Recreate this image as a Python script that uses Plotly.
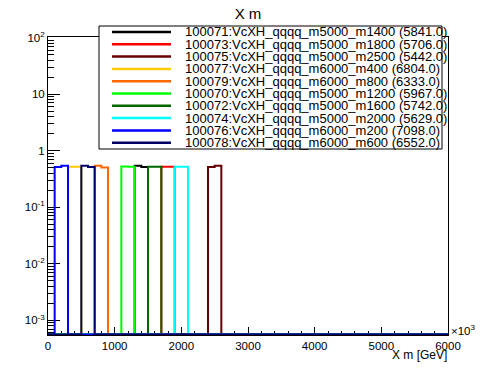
import plotly.graph_objects as go

# ---------------- data ----------------
bin_width = 100
x_min, x_max = 0, 6000
sample_labels = [
    "100071:VcXH_qqqq_m5000_m1400 (5841.0)",
    "100073:VcXH_qqqq_m5000_m1800 (5706.0)",
    "100075:VcXH_qqqq_m5000_m2500 (5442.0)",
    "100077:VcXH_qqqq_m6000_m400 (6804.0)",
    "100079:VcXH_qqqq_m6000_m800 (6333.0)",
    "100070:VcXH_qqqq_m5000_m1200 (5967.0)",
    "100072:VcXH_qqqq_m5000_m1600 (5742.0)",
    "100074:VcXH_qqqq_m5000_m2000 (5629.0)",
    "100076:VcXH_qqqq_m6000_m200 (7098.0)",
    "100078:VcXH_qqqq_m6000_m600 (6552.0)",
]
sample_colors = ["#000000", "#ff0000", "#660000", "#ffcc00", "#ff6600",
                 "#00ff00", "#006600", "#00ffff", "#0000ff", "#000066"]
bin_low = [1300, 1700, 2400, 300, 700, 1100, 1500, 1900, 100, 500]
content_first = [0.54, 0.52, 0.515, 0.52, 0.54, 0.525, 0.52, 0.52, 0.515, 0.54]
content_second = [0.515, 0.52, 0.54, 0.52, 0.505, 0.52, 0.52, 0.52, 0.54, 0.515]

x_tick_vals = [0, 1000, 2000, 3000, 4000, 5000, 6000]
x_tick_text = ["0", "1000", "2000", "3000", "4000", "5000", "6000"]
y_tick_vals = [1e-3, 1e-2, 1e-1, 1, 10, 100]
y_tick_text = ["10<sup>-3</sup>", "10<sup>-2</sup>", "10<sup>-1</sup>", "1", "10", "10<sup>2</sup>"]
y_log_range = [-3.26, 2.01]

# ---------------- layout geometry (pixels) ----------------
OFF = 8                      # default page body margin
W, H = 490, 366
plot_w, plot_h = 400, 298
L, T = 48 - OFF, 37 - OFF
R = W - L - plot_w
B = H - T - plot_h
FONT = "Liberation Sans, Arial, sans-serif"


def px_x(p):
    return (p - OFF - L) / plot_w


def px_y(p):
    return (H - B - (p - OFF)) / plot_h


nbins = (x_max - x_min) // bin_width
edges = [x_min + i * bin_width for i in range(nbins + 1)]
floor = 10 ** (y_log_range[0] + 0.01)

fig = go.Figure()
for lab, col, lo, c1, c2 in zip(sample_labels, sample_colors, bin_low,
                                content_first, content_second):
    contents = [0.0] * nbins
    i0 = (lo - x_min) // bin_width
    contents[i0] = c1
    contents[i0 + 1] = c2
    yv = [c if c > 0 else floor for c in contents]
    yv.append(yv[-1])
    fig.add_trace(go.Scatter(x=edges, y=yv, mode="lines", line_shape="hv",
                             line=dict(color=col, width=2), name=lab,
                             showlegend=False, hoverinfo="skip"))

# ---------------- manual ROOT-style legend ----------------
shapes = [dict(type="rect", xref="paper", yref="paper",
               x0=px_x(99), x1=px_x(442), y0=px_y(149), y1=px_y(26),
               line=dict(color="black", width=1), fillcolor="white", layer="above")]
annotations = []
row0, row_step = 32.0, 12.3
for i, (lab, col) in enumerate(zip(sample_labels, sample_colors)):
    yy = row0 + i * row_step
    shapes.append(dict(type="line", xref="paper", yref="paper",
                       x0=px_x(112), x1=px_x(171), y0=px_y(yy), y1=px_y(yy),
                       line=dict(color=col, width=2.5), layer="above"))
    annotations.append(dict(text=lab, xref="paper", yref="paper",
                            x=px_x(184), y=px_y(yy), xanchor="left", yanchor="middle",
                            borderpad=0,
                            showarrow=False, font=dict(size=13, color="black", family=FONT)))

annotations.append(dict(text="X m [GeV]", xref="paper", yref="paper",
                        x=px_x(449), y=px_y(355), xanchor="right", yanchor="middle",
                        showarrow=False, font=dict(size=12, color="black", family=FONT)))
annotations.append(dict(text="\u00d710<sup>3</sup>", xref="paper", yref="paper",
                        x=px_x(449), y=px_y(330), xanchor="left", yanchor="middle",
                        showarrow=False, font=dict(size=11.5, color="black", family=FONT)))

fig.update_layout(
    width=W, height=H,
    margin=dict(l=L, r=R, t=T, b=B, pad=0, autoexpand=False),
    paper_bgcolor="white", plot_bgcolor="white",
    font=dict(family=FONT, color="black"),
    title=dict(text="X m", x=px_x(248), xref="paper", xanchor="center",
               y=1, yref="container", yanchor="top", pad=dict(t=0, b=0),
               font=dict(size=15, family=FONT)),
    shapes=shapes, annotations=annotations,
    showlegend=False,
)
fig.update_xaxes(range=[x_min, x_max], tickmode="array", tickvals=x_tick_vals,
                 ticktext=x_tick_text, ticks="inside", ticklen=8, tickcolor="black",
                 showline=True, mirror=True, linecolor="black", linewidth=1,
                 showgrid=False, zeroline=False, layer="below traces", automargin=False,
                 tickfont=dict(size=11.5, family=FONT),
                 minor=dict(dtick=200, ticks="inside", ticklen=4, tickcolor="black",
                            showgrid=False))
fig.update_yaxes(type="log", range=y_log_range, tickmode="array", tickvals=y_tick_vals,
                 ticktext=y_tick_text, ticks="inside", ticklen=12, tickcolor="black",
                 showline=True, mirror=True, linecolor="black", linewidth=1,
                 showgrid=False, zeroline=False, layer="below traces", automargin=False,
                 tickfont=dict(size=11.5, family=FONT),
                 minor=dict(dtick="D1", ticks="inside", ticklen=6, tickcolor="black",
                            showgrid=False))

fig.write_html("out.html")
